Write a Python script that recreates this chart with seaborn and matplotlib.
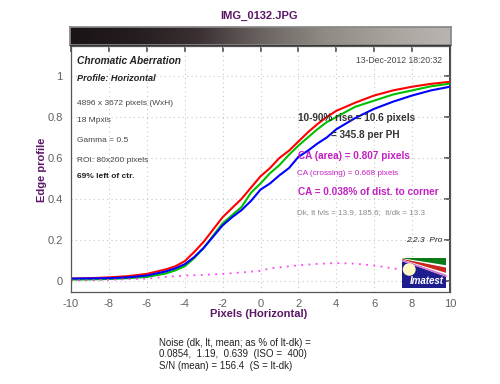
import matplotlib
matplotlib.use("Agg")
import matplotlib.pyplot as plt
import numpy as np
import pandas as pd
import seaborn as sns
from matplotlib.colors import LinearSegmentedColormap
from matplotlib.patches import Ellipse, Polygon, Rectangle

# edge profile per channel
pixels = [-10, -9, -8, -7, -6, -5, -4.5, -4, -3.5, -3, -2.5, -2, -1.5, -1, -0.5,
          0, 0.5, 1, 1.5, 2, 2.5, 3, 3.5, 4, 5, 6, 7, 8, 9, 10]
red = [0.010, 0.012, 0.016, 0.022, 0.033, 0.055, 0.070, 0.095, 0.140, 0.190, 0.250, 0.310,
       0.355, 0.400, 0.455, 0.510, 0.550, 0.600, 0.635, 0.680, 0.725, 0.765, 0.800, 0.830,
       0.870, 0.905, 0.930, 0.948, 0.962, 0.972]
green = [0.005, 0.006, 0.008, 0.012, 0.018, 0.035, 0.050, 0.070, 0.110, 0.160, 0.220, 0.280,
         0.320, 0.360, 0.430, 0.475, 0.525, 0.565, 0.615, 0.660, 0.700, 0.740, 0.775, 0.800,
         0.850, 0.880, 0.910, 0.930, 0.950, 0.963]
blue = [0.010, 0.011, 0.012, 0.016, 0.025, 0.045, 0.060, 0.080, 0.115, 0.160, 0.215, 0.270,
        0.310, 0.345, 0.390, 0.445, 0.475, 0.515, 0.550, 0.605, 0.635, 0.670, 0.700, 0.740,
        0.795, 0.840, 0.875, 0.905, 0.930, 0.948]

# chromatic difference curve (dotted magenta)
ca_x = [-10, -8, -6, -5, -4, -3, -2, -1, 0, 0.5, 1, 2, 3, 4, 5, 6, 7, 8, 9, 10]
ca_diff = [0.000, 0.004, 0.010, 0.018, 0.025, 0.028, 0.033, 0.040, 0.048, 0.060, 0.065,
           0.075, 0.082, 0.086, 0.083, 0.074, 0.060, 0.045, 0.030, 0.020]

x_ticks = [-10, -8, -6, -4, -2, 0, 2, 4, 6, 8, 10]
y_ticks = [0, 0.2, 0.4, 0.6, 0.8, 1]
y_tick_labels = ["0", "0.2", "0.4", "0.6", "0.8", "1"]

W, H = 500, 384
PURPLE = "#5b1766"
MAGENTA = "#c41fc4"


def fx(px):
    return px / W


def fy(py):
    return 1 - py / H


sns.set_theme(style="white")
plt.rcParams["font.family"] = ["Liberation Sans", "DejaVu Sans"]
plt.rcParams["axes.unicode_minus"] = False

fig = plt.figure(figsize=(5, 3.84), dpi=100)
fig.patch.set_facecolor("white")

# gradient strip above the plot
gax = fig.add_axes([fx(70), fy(45), fx(381), 18 / H])
cmap = LinearSegmentedColormap.from_list(
    "strip", ["#1b1416", "#241c1e", "#3a3032", "#6a6260", "#8f8a83", "#a7a39c", "#b9b4b1"])
gax.imshow(np.linspace(0, 1, 256)[None, :], aspect="auto", cmap=cmap)
gax.set_xticks([])
gax.set_yticks([])
for s in gax.spines.values():
    s.set_color("#888888")

ax = fig.add_axes([fx(71), fy(291.7), fx(450 - 71), (291.7 - 46) / H])
df = pd.DataFrame({"pixels": pixels, "red": red, "green": green, "blue": blue})
for col, c in [("red", "#ff0000"), ("green", "#00c000"), ("blue", "#0000ff")]:
    sns.lineplot(data=df, x="pixels", y=col, color=c, lw=1.5, ax=ax)
ca = pd.DataFrame({"pixels": ca_x, "diff": ca_diff})
sns.lineplot(data=ca, x="pixels", y="diff", color="#ff40ff", lw=1.3,
             linestyle=(0, (1, 3)), ax=ax)

ax.set_xlim(-10, 10)
ax.set_ylim(-0.054, 1.147)
ax.set_xticks(x_ticks)
ax.set_yticks(y_ticks)
ax.set_yticklabels(y_tick_labels)
ax.set_xlabel("")
ax.set_ylabel("")
ax.grid(True, linestyle=(0, (1, 3)), color="#c8c8c8", lw=0.8)
ax.tick_params(axis="x", direction="in", length=4, color="#555555",
               labelcolor="#606060", labelsize=8, pad=5)
ax.tick_params(axis="y", direction="out", length=4, color="#555555",
               labelcolor="#606060", labelsize=8, pad=2)
for s in ax.spines.values():
    s.set_color("#555555")
    s.set_linewidth(0.9)

top = ax.secondary_xaxis("top")
top.set_xticks(x_ticks)
top.tick_params(direction="in", length=4, color="#555555", labeltop=False)
right = ax.secondary_yaxis("right")
right.set_yticks(y_ticks)
right.tick_params(direction="in", length=4, color="#555555", labelright=False)

# title and axis labels
fig.text(fx(259), fy(16), "IMG_0132.JPG", ha="center", va="center",
         fontsize=8, fontweight="bold", color=PURPLE)
fig.text(fx(258.5), fy(314), "Pixels (Horizontal)", ha="center", va="center",
         fontsize=8, fontweight="bold", color=PURPLE)
fig.text(fx(42), fy(170), "Edge profile", ha="center", va="center", rotation=90,
         fontsize=8, fontweight="bold", color=PURPLE)

# left info block
fig.text(fx(77), fy(61), "Chromatic Aberration", va="center", fontsize=7.3,
         fontweight="bold", style="italic", color="#222222")
fig.text(fx(77), fy(78.3), "Profile: Horizontal", va="center", fontsize=6.6,
         fontweight="bold", style="italic", color="#222222")
info = [(103.3, "4896 x 3672 pixels (WxH)"), (121, "18 Mpxls"),
        (141, "Gamma = 0.5"), (160, "ROI: 80x200 pixels")]
for py, t in info:
    fig.text(fx(77), fy(py), t, va="center", fontsize=6, color="#444444")
fig.text(fx(77), fy(176.7), "69% left of ctr.", va="center", fontsize=6,
         fontweight="bold", color="#222222")

# right info block
fig.text(fx(442), fy(60.7), "13-Dec-2012 18:20:32", ha="right", va="center",
         fontsize=6.2, color="#444444")
fig.text(fx(298), fy(118.3), "10-90% rise = 10.6 pixels", va="center", fontsize=7.2,
         fontweight="bold", color="#333333")
fig.text(fx(331), fy(135), "= 345.8 per PH", va="center", fontsize=7.2,
         fontweight="bold", color="#333333")
fig.text(fx(298), fy(155.7), "CA (area) = 0.807 pixels", va="center", fontsize=7.2,
         fontweight="bold", color=MAGENTA)
fig.text(fx(297), fy(173.3), "CA (crossing) = 0.668 pixels", va="center", fontsize=5.9,
         color=MAGENTA)
fig.text(fx(298), fy(191.7), "CA = 0.038% of dist. to corner", va="center", fontsize=7.2,
         fontweight="bold", color=MAGENTA)
fig.text(fx(297), fy(212.3), "Dk, lt lvls = 13.9, 185.6;  lt/dk = 13.3", va="center",
         fontsize=5.8, color="#888888")
fig.text(fx(442), fy(240.7), "2.2.3  Pro", ha="right", va="center", fontsize=6,
         style="italic", color="#222222")

# noise summary below
noise = ["Noise (dk, lt, mean; as % of lt-dk) =",
         "0.0854,  1.19,  0.639  (ISO =  400)",
         "S/N (mean) = 156.4  (S = lt-dk)"]
for py, t in zip([343.3, 354.3, 365.7], noise):
    fig.text(fx(159), fy(py), t, va="center", fontsize=7.0, color="#222222")

# logo badge
lax = fig.add_axes([fx(401.7), fy(287.7), 44.3 / W, 29.4 / H])
lax.set_xlim(0, 1)
lax.set_ylim(0, 1)
lax.axis("off")
lax.add_patch(Rectangle((0, 0), 1, 1, color="#1d1d8e"))
lax.add_patch(Polygon([(0, 1), (1, 1), (1, 0.77)], color="#087a18"))
lax.add_patch(Polygon([(0, 0.98), (1, 0.74), (1, 0.69)], color="white"))
lax.add_patch(Polygon([(0, 0.96), (1, 0.66), (1, 0.50)], color="#c8281c"))
lax.add_patch(Polygon([(0, 0.94), (1, 0.48), (1, 0.43)], color="white"))
lax.add_patch(Polygon([(0, 0.93), (1, 0.42), (1, 0.39)], color="#d080d0"))
lax.add_patch(Ellipse((0.17, 0.62), 0.26, 0.38, color="#fff8c4"))
lax.text(0.56, 0.22, "Imatest", ha="center", va="center", color="white",
         fontsize=7, fontweight="bold", style="italic")

fig.savefig("out.png", dpi=100)
